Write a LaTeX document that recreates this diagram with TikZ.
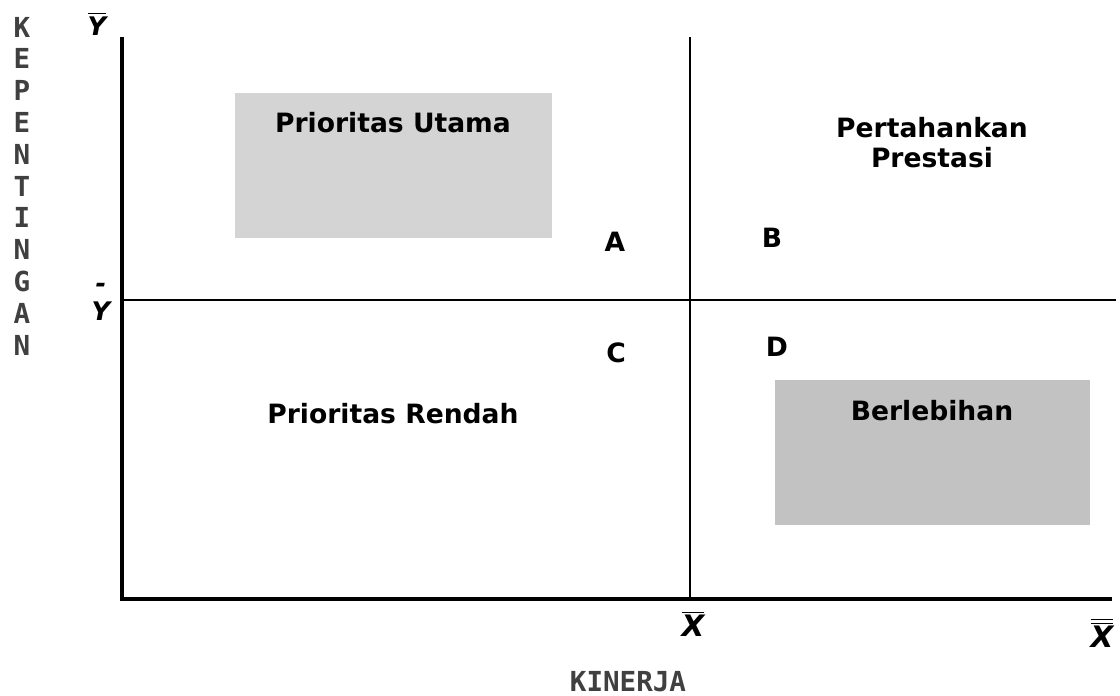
\documentclass[tikz,border=0pt]{standalone}
\usepackage{fontspec}
\setmainfont{DejaVu Sans}
\newfontfamily\axisfont{DejaVu Sans Mono}
\begin{document}
\begin{tikzpicture}[x=0.017857cm, y=-0.017857cm,
    quad/.style={font=\bfseries\fontsize{13.5}{16}\selectfont, anchor=base, inner sep=0pt},
    axislbl/.style={font=\axisfont\bfseries\fontsize{14}{16}\selectfont, text=black!75, inner sep=0pt},
    mean/.style={font=\bfseries\itshape\fontsize{#1}{#1}\selectfont, inner sep=0pt}]
    \useasboundingbox (0,0) rectangle (1120,696);

    % shaded quadrants
    \fill[black!17] (235,93) rectangle (552,238);
    \fill[black!24] (775,380) rectangle (1090,525);

    % The axes
    \coordinate (O) at (122,599);
    \coordinate (ytop) at (122,37);
    \coordinate (xend) at (1112,599);
    \draw[line width=2.3pt] (ytop) -- (O) -- (xend);

    % mean lines
    \coordinate (vtop) at (690,37);
    \coordinate (vbot) at (690,599);
    \coordinate (hleft) at (122,300);
    \coordinate (hright) at (1116,300);
    \draw[line width=0.8pt] (vtop) -- (vbot);
    \draw[line width=0.8pt] (hleft) -- (hright);

    % quadrant labels
    \node[quad] (utama) at (393,133) {Prioritas Utama};
    \node[quad] (pertahankan) at (932,138) {Pertahankan};
    \node[quad] (prestasi) at (932,168) {Prestasi};
    \node[quad] (rendah) at (393,423) {Prioritas Rendah};
    \node[quad] (lebih) at (932,420) {Berlebihan};
    \node[quad] (qa) at (615,252) {A};
    \node[quad] (qb) at (772,248) {B};
    \node[quad] (qc) at (616,363) {C};
    \node[quad] (qd) at (777,357) {D};

    % axis means
    \node[mean=13] (ybar) at (97,24) {$\overline{\hbox{Y}}$};
    \node[mean=13, align=center] (ymid) at (101,302) {-\\[1pt]Y};
    \node[mean=15] (xbar) at (693,624) {$\overline{\hbox{X}}$};
    \node[mean=15] (xdbar) at (1102,633) {$\overline{\overline{\hbox{X}}}$};

    % axis titles
    \node[axislbl] (kinerja) at (628,682) {KINERJA};
    \foreach \c [count=\i from 0] in {K,E,P,E,N,T,I,N,G,A,N}
        \node[axislbl] (kep-\i) at (22,27+31.8*\i) {\c};
\end{tikzpicture}
\end{document}
